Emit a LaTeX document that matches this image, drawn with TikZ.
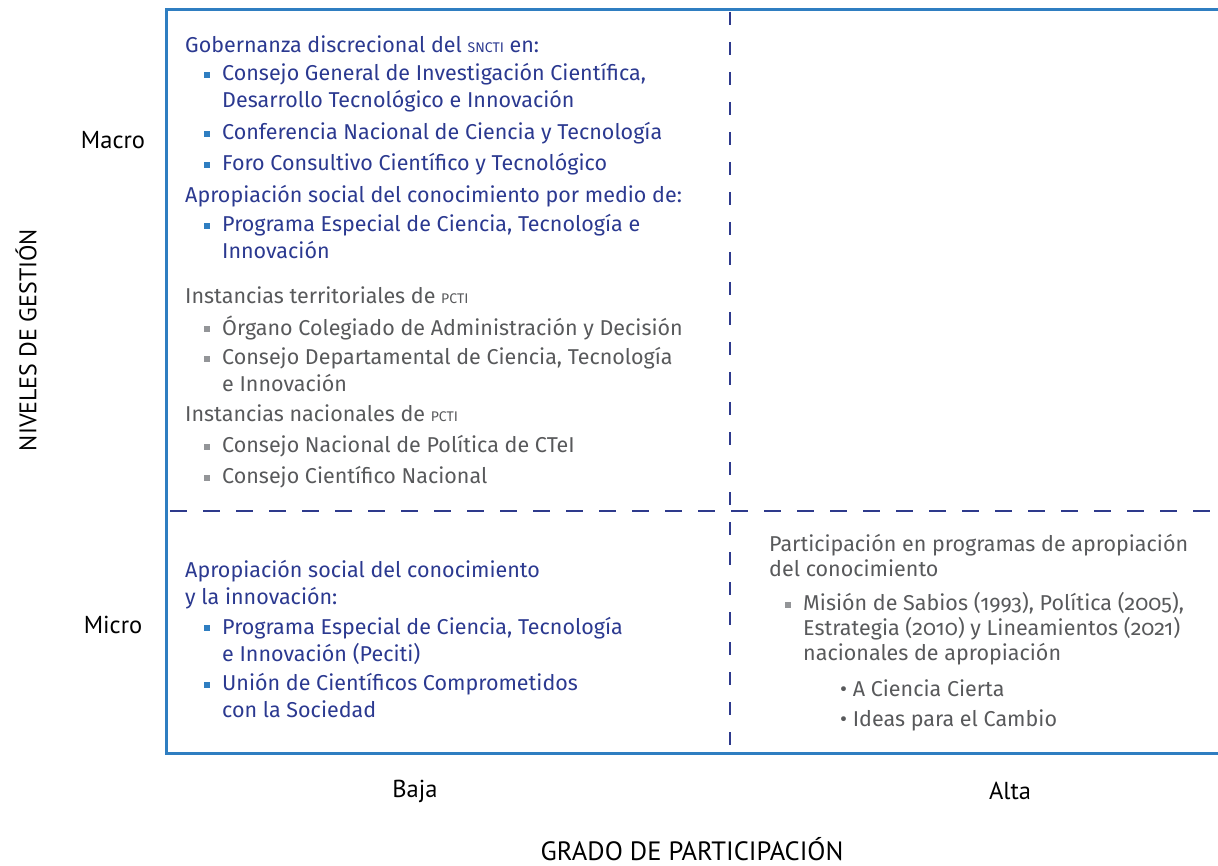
\documentclass[tikz,border=0pt]{standalone}
\usepackage{fontspec}
\setmainfont[Numbers=OldStyle]{Fira Sans}
\newfontfamily\axisfont{PT Sans}
\usetikzlibrary{positioning}
\definecolor{txtblue}{HTML}{2B3990}
\definecolor{txtgrey}{HTML}{58595B}
\definecolor{boxblue}{HTML}{2F7EC1}
\definecolor{dashblue}{HTML}{2E3A8C}
\definecolor{dotgrey}{HTML}{939598}
\newcommand{\sqbullet}[1]{\llap{\textcolor{#1}{\rule[2.7pt]{6pt}{6pt}}\hspace{12pt}}}
\newcommand{\smc}[1]{{\fontsize{14}{27}\selectfont #1}}

\begin{document}
\begin{tikzpicture}
  [x=1pt,y=-1pt,
   every node/.style={inner sep=0pt,align=left,anchor=north west},
   body/.style={font=\fontsize{21.5}{27}\selectfont,
     execute at begin node=\strut,execute at end node=\strut},
   bluetxt/.style={body,text=txtblue},
   greytxt/.style={body,text=txtgrey},
   righttxt/.style={greytxt,font=\fontsize{21.5}{25}\selectfont},
   under/.style={below=4pt of #1,anchor=north west},
   axislabel/.style={font=\axisfont\fontsize{24.5}{28}\selectfont,anchor=center},
   axistitle/.style={font=\axisfont\fontsize{26.5}{30}\selectfont,anchor=center},
   frame/.style={draw=boxblue,line width=3pt},
   divider/.style={draw=dashblue,line width=2.5pt}]
  \useasboundingbox (0,0) rectangle (1218,866);
  \coordinate (tl) at (166,10);
  \coordinate (bl) at (166,753);
  \coordinate (tr) at (1222,10);
  \coordinate (br) at (1222,753);
  \coordinate (vt) at (730,10);
  \coordinate (vb) at (730,753);
  \coordinate (hl) at (166,511);
  \coordinate (hr) at (1222,511);

  % quadrant lines
  \draw[divider,dash pattern=on 13pt off 17pt,dash phase=-2pt] (vt) -- (vb);
  \draw[divider,dash pattern=on 17pt off 16pt,dash phase=-4pt] (hl) -- (hr);
  \draw[frame] (tr) -- (tl) -- (bl) -- (br);

  % macro, baja
  \node[bluetxt] (g0) at (185,33) {Gobernanza discrecional del \smc{SNCTI} en:};
  \node[bluetxt,below right=3pt and 37pt of g0.south west] (g1)
    {\sqbullet{boxblue}Consejo General de Investigación Científica,\\Desarrollo Tecnológico e Innovación};
  \node[bluetxt,under=g1.south west] (g2) {\sqbullet{boxblue}Conferencia Nacional de Ciencia y Tecnología};
  \node[bluetxt,under=g2.south west] (g3) {\sqbullet{boxblue}Foro Consultivo Científico y Tecnológico};
  \node[bluetxt] (a0) at (185,183) {Apropiación social del conocimiento por medio de:};
  \node[bluetxt,below right=4pt and 37pt of a0.south west] (a1)
    {\sqbullet{boxblue}Programa Especial de Ciencia, Tecnología e\\Innovación};

  \node[greytxt] (t0) at (185,284) {Instancias territoriales de \smc{PCTI}};
  \node[greytxt,below right=4pt and 37pt of t0.south west] (t1)
    {\sqbullet{dotgrey}Órgano Colegiado de Administración y Decisión};
  \node[greytxt,under=t1.south west] (t2)
    {\sqbullet{dotgrey}Consejo Departamental de Ciencia, Tecnología\\e Innovación};
  \node[greytxt] (n0) at (185,402) {Instancias nacionales de \smc{PCTI}};
  \node[greytxt,below right=4pt and 37pt of n0.south west] (n1)
    {\sqbullet{dotgrey}Consejo Nacional de Política de CTeI};
  \node[greytxt,under=n1.south west] (n2) {\sqbullet{dotgrey}Consejo Científico Nacional};

  % micro, baja
  \node[bluetxt] (m0) at (185,560) {Apropiación social del conocimiento\\y la innovación:};
  \node[bluetxt,below right=4pt and 37pt of m0.south west] (m1)
    {\sqbullet{boxblue}Programa Especial de Ciencia, Tecnología\\e Innovación (Peciti)};
  \node[bluetxt,under=m1.south west] (m2)
    {\sqbullet{boxblue}Unión de Científicos Comprometidos\\con la Sociedad};

  % micro, alta
  \node[righttxt] (p0) at (769,534.5) {Participación en programas de apropiación\\del conocimiento};
  \node[righttxt,below right=8pt and 34pt of p0.south west] (p1)
    {\sqbullet{dotgrey}Misión de Sabios (1993), Política (2005),\\Estrategia (2010) y Lineamientos (2021)\\nacionales de apropiación};
  \node[righttxt,below right=10pt and 37pt of p1.south west] (p2) {• A Ciencia Cierta};
  \node[righttxt,below=5pt of p2.south west,anchor=north west] (p3) {• Ideas para el Cambio};

  % axes
  \node[axislabel] (macro) at (113,140) {Macro};
  \node[axislabel] (micro) at (113,625) {Micro};
  \node[axislabel] (baja) at (415,791) {Baja};
  \node[axislabel] (alta) at (1010,791) {Alta};
  \node[axistitle] (grado) at (692,849) {GRADO DE PARTICIPACIÓN};
  \node[axistitle,font=\axisfont\fontsize{24}{28}\selectfont,rotate=90] (niveles) at (26,340) {NIVELES DE GESTIÓN};
\end{tikzpicture}
\end{document}
